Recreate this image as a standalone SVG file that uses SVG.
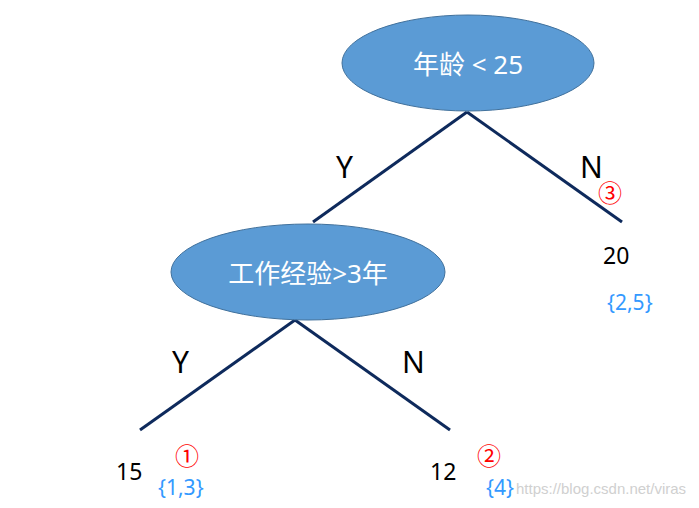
<svg xmlns="http://www.w3.org/2000/svg" width="699" height="508" viewBox="0 0 699 508">
<style>
.node{fill:#5b9bd5;stroke:#41719c;stroke-width:1}
.nt{fill:#fff;font-family:"Noto Sans","Noto Sans CJK SC",sans-serif;font-size:26px;text-anchor:middle}
.lbl{fill:#000;font-family:"Noto Sans",sans-serif;font-size:30px}
.val{fill:#000;font-family:"Noto Sans",sans-serif;font-size:23px}
.set{fill:#3399ff;font-family:"Noto Sans",sans-serif;font-size:21px}
.circ{fill:#ff0000;font-family:"Noto Sans CJK SC",sans-serif;font-size:24px}
.edge{stroke:#0e2a5c;stroke-width:3;fill:none}
</style>
<rect width="699" height="508" fill="#fff"/>
<g id="connectors">
<line class="edge" x1="467" y1="112" x2="313" y2="222"/>
<line class="edge" x1="467" y1="112" x2="622" y2="222"/>
<line class="edge" x1="295" y1="320" x2="140" y2="430"/>
<line class="edge" x1="295" y1="320" x2="450" y2="430"/>
</g>
<g id="root"><ellipse class="node" cx="468" cy="63" rx="126" ry="48"/><text class="nt" x="468" y="74">年龄  &lt; 25</text></g>
<g id="exp"><ellipse class="node" cx="308" cy="272" rx="137" ry="48"/><text class="nt" x="308" y="283">工作经验&gt;3年</text></g>
<text class="lbl" x="336" y="178">Y</text>
<text class="lbl" x="580" y="178">N</text>
<text class="lbl" x="172" y="373">Y</text>
<text class="lbl" x="402" y="373">N</text>
<g id="leaf20"><text class="val" x="603" y="264">20</text><text class="set" x="607" y="310">{2,5}</text><text class="circ" x="598" y="202">③</text></g>
<g id="leaf15"><text class="val" x="116" y="480">15</text><text class="set" x="158" y="495">{1,3}</text><text class="circ" x="175" y="465">①</text></g>
<g id="leaf12"><text class="val" x="430" y="480">12</text><text class="set" x="486" y="495">{4}</text><text class="circ" x="477" y="465">②</text></g>
<text x="516" y="494" fill="#d0d0d0" font-family="Liberation Sans,sans-serif" font-size="15">https://blog.csdn.net/viras</text>
</svg>
